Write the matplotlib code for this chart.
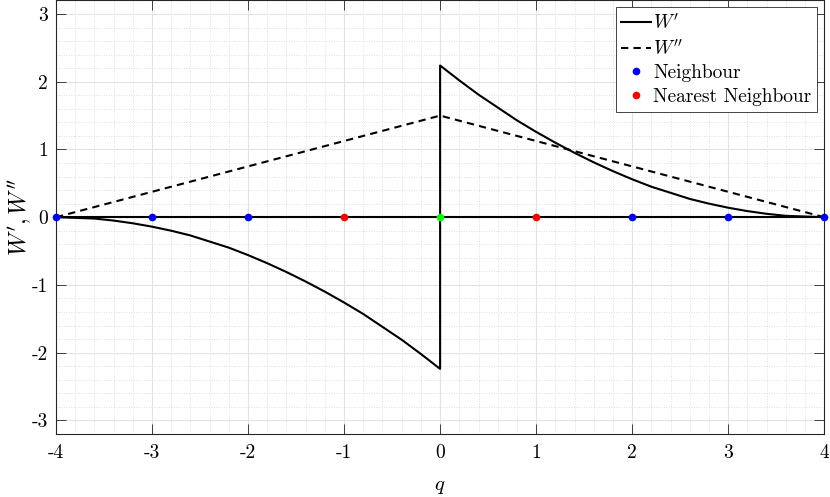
import numpy as np
import matplotlib
matplotlib.use('Agg')
import matplotlib.pyplot as plt

plt.rcParams['font.family'] = ['cmr10', 'DejaVu Serif']
plt.rcParams['mathtext.fontset'] = 'cm'
plt.rcParams['axes.unicode_minus'] = False
plt.rcParams['font.size'] = 11

# W' (left branch, then right branch after the jump at q=0)
q_left = [-4.0, -3.8, -3.6, -3.4, -3.2, -3.0, -2.8, -2.6, -2.4, -2.2, -2.0,
          -1.8, -1.6, -1.4, -1.2, -1.0, -0.8, -0.6, -0.4, -0.2, 0.0]
wp_left = [0.0, -0.01, -0.02, -0.05, -0.09, -0.14, -0.20, -0.27, -0.36, -0.45, -0.56,
           -0.68, -0.81, -0.95, -1.10, -1.26, -1.43, -1.62, -1.81, -2.02, -2.24]
q_right = [0.0, 0.2, 0.4, 0.6, 0.8, 1.0, 1.2, 1.4, 1.6, 1.8, 2.0,
           2.2, 2.4, 2.6, 2.8, 3.0, 3.2, 3.4, 3.6, 3.8, 4.0]
wp_right = [2.24, 2.02, 1.81, 1.62, 1.43, 1.26, 1.10, 0.95, 0.81, 0.68, 0.56,
            0.45, 0.36, 0.27, 0.20, 0.14, 0.09, 0.05, 0.02, 0.01, 0.0]

# W'' is piecewise linear
q_wpp = [-4, 0, 4]
wpp = [0, 1.5, 0]

# lattice points
q_neigh = [-4, -3, -2, 2, 3, 4]
q_nearest = [-1, 1]
q_self = [0]

xticks = [-4, -3, -2, -1, 0, 1, 2, 3, 4]
yticks = [-3, -2, -1, 0, 1, 2, 3]

fig = plt.figure(figsize=(8.3, 4.97), dpi=100)
ax = fig.add_axes([0.0675, 0.127, 0.9255, 0.872])

q_wp = q_left + q_right
wp = wp_left + wp_right

ax.plot([-4, 4], [0, 0], color='k', lw=1.5, zorder=3)
l1, = ax.plot(q_wp, wp, color='k', lw=1.5, label=r"$W'$", zorder=4)
l2, = ax.plot(q_wpp, wpp, color='k', lw=1.5, ls=(0, (3.5, 2.5)), label=r"$W''$", zorder=4)
p1, = ax.plot(q_neigh, np.zeros(len(q_neigh)), 'o', color='#0000ff', ms=4.5,
              label='Neighbour', zorder=5, clip_on=False)
p2, = ax.plot(q_nearest, np.zeros(len(q_nearest)), 'o', color='#ff0000', ms=4.5,
              label='Nearest Neighbour', zorder=5)
ax.plot(q_self, [0], 'o', color='#00ff00', ms=4.5, zorder=5)

ax.set_xlim(-4, 4)
ax.set_ylim(-3.2, 3.2)
ax.set_xticks(xticks)
ax.set_xticklabels([str(t) for t in xticks])
ax.set_yticks(yticks)
ax.set_yticklabels([str(t) for t in yticks])
ax.set_xticks(np.arange(-4, 4.01, 0.2), minor=True)
ax.set_yticks(np.arange(-3.2, 3.21, 0.2), minor=True)

ax.grid(which='major', color='#e3e3e3', lw=0.8, ls='-')
ax.grid(which='minor', color='#d4d4d4', lw=0.6, ls=(0, (1, 2)))
ax.set_axisbelow(True)

ax.tick_params(which='major', direction='in', length=7, width=0.6, top=True, right=True,
               colors='#262626', labelcolor='k', labelsize=14, pad=7)
ax.tick_params(which='major', axis='y', pad=6)
ax.tick_params(which='minor', length=0)
for s in ax.spines.values():
    s.set_color('#262626')
    s.set_linewidth(0.8)

ax.set_xlabel(r'$q$', fontsize=15, labelpad=12)
ax.set_ylabel(r"$W', W''$", fontsize=17, labelpad=-2)

leg = ax.legend(handles=[l1, l2, p1, p2], loc='upper right', fontsize=14,
                frameon=True, fancybox=False, edgecolor='#262626', framealpha=1,
                handlelength=1.5, handletextpad=0.15, borderpad=0.3,
                labelspacing=0.3, borderaxespad=0.35)
leg.get_frame().set_linewidth(0.6)

fig.savefig('out.png', dpi=100)
